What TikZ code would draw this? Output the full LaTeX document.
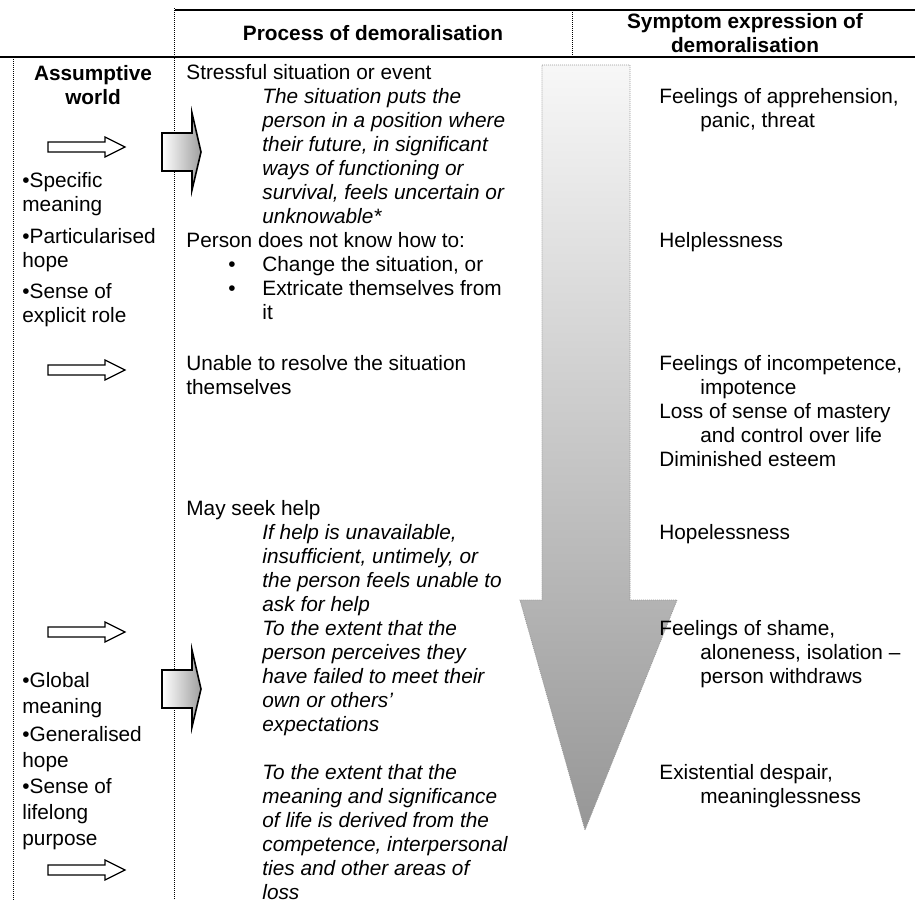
\documentclass[tikz,border=0pt]{standalone}
\usepackage{fontspec}
\setmainfont{Liberation Sans}
\usetikzlibrary{positioning}

\begin{document}
\fontsize{10.4}{12}\selectfont
\begin{tikzpicture}[
    x=0.5pt, y=-0.5pt,
    txt/.style={anchor=base west, inner sep=0pt, align=left},
    emph/.style={txt, font=\itshape},
    loose/.style={txt, font=\fontsize{10.4}{13}\selectfont},
    head/.style={anchor=base, inner sep=0pt, align=center, font=\bfseries},
    rule/.style={line width=0.7pt},
    dots/.style={line width=0.5pt, dash pattern=on 0.5pt off 0.5pt},
    hollow/.style={draw, fill=white, line width=0.6pt},
    block/.style={draw, line width=0.8pt, left color=white, right color=gray!75},
    bigarrow/.style={draw=gray!80, line width=0.4pt, dash pattern=on 0.5pt off 0.5pt,
        top color=gray!6, bottom color=gray!82}
]
\newcommand{\ind}{\hspace*{20.5pt}}
\useasboundingbox (0,0) rectangle (915,900);

% Table rules
\draw[rule] (175,10) -- (915,10);
\draw[rule] (0,57) -- (915,57);
\draw[dots] (174,8) -- (174,900);
\draw[dots] (13,57) -- (13,900);
\draw[dots] (572,10) -- (572,57);

% Headers (base = last line)
\node[head] (process) at (373,40) {Process of demoralisation};
\node[head] (symptom) at (745,52) {Symptom expression of\\demoralisation};
\node[head] (assume) at (93,104) {Assumptive\\world};

% Big downward arrow
\path[bigarrow] (542,65) -- (630,65) -- (630,600) -- (677,600) -- (585,830)
    -- (520,600) -- (542,600) -- cycle;

% Small hollow arrows
\foreach \y in {147,370,632,870}
  \draw[hollow] (48,\y-5) -- (105,\y-5) -- (105,\y-10) -- (125,\y) -- (105,\y+10)
      -- (105,\y+5) -- (48,\y+5) -- cycle;

% Shaded block arrows
\foreach \y in {152,689}
  \path[block] (162,\y-19) -- (192,\y-19) -- (192,\y-39) -- (201,\y) -- (192,\y+38)
      -- (192,\y+19) -- (162,\y+19) -- cycle;

% Assumptive world
\node[txt] (specific) at (22,211) {\textbullet Specific\\meaning};
\node[txt] (particular) at (22,267) {\textbullet Particularised\\hope};
\node[txt] (explicit) at (22,322) {\textbullet Sense of\\explicit role};
\node[loose] (global) at (22,713) {\textbullet Global\\meaning};
\node[loose] (general) at (22,767) {\textbullet Generalised\\hope};
\node[loose] (lifelong) at (22,845) {\textbullet Sense of\\lifelong\\purpose};

% Process of demoralisation
\node[txt] (stress) at (186,79) {Stressful situation or event};
\node[emph] (stressnote) at (262,223) {The situation puts the\\person in a position where\\their future, in significant\\ways of functioning or\\survival, feels uncertain or\\unknowable*};
\node[txt] (notknow) at (186,247) {Person does not know how to:};
\node[txt] (dot1) at (228,271) {\textbullet};
\node[txt] (change) at (262,271) {Change the situation, or};
\node[txt] (dot2) at (228,295) {\textbullet};
\node[txt] (extricate) at (262,319) {Extricate themselves from\\it};
\node[txt] (unable) at (186,394) {Unable to resolve the situation\\themselves};
\node[txt] (seek) at (186,515) {May seek help};
\node[emph] (seeknote) at (262,731) {If help is unavailable,\\insufficient, untimely, or\\the person feels unable to\\ask for help\\To the extent that the\\person perceives they\\have failed to meet their\\own or others’\\expectations};
\node[emph] (meaning) at (262,899) {To the extent that the\\meaning and significance\\of life is derived from the\\competence, interpersonal\\ties and other areas of\\loss};

% Symptom expression
\node[txt] (apprehension) at (659,127) {Feelings of apprehension,\\\ind panic, threat};
\node[txt] (helpless) at (659,247) {Helplessness};
\node[txt] (incompetence) at (659,466) {Feelings of incompetence,\\\ind impotence\\Loss of sense of mastery\\\ind and control over life\\Diminished esteem};
\node[txt] (hopeless) at (659,539) {Hopelessness};
\node[txt] (shame) at (659,683) {Feelings of shame,\\\ind aloneness, isolation –\\\ind person withdraws};
\node[txt] (despair) at (659,803) {Existential despair,\\\ind meaninglessness};

\end{tikzpicture}
\end{document}
